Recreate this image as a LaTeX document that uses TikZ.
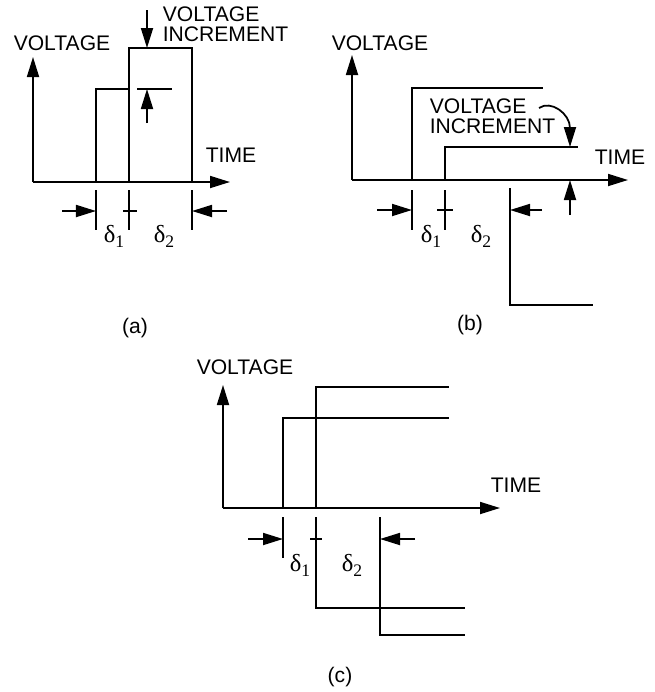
\documentclass[tikz,border=0pt]{standalone}
\usepackage{fontspec}
\setmainfont{Liberation Sans}
\newfontfamily\grk{Liberation Serif}
\usetikzlibrary{arrows.meta}

\newcommand{\dsub}[1]{{\grk δ\raisebox{-0.45ex}{\fontsize{15}{15}\selectfont #1}}}

\begin{document}
\begin{tikzpicture}[x=0.03cm, y=-0.03cm, line width=1.5pt,
    lbl/.style = {font=\fontsize{18}{17}\selectfont, inner sep=0pt},
    dlt/.style = {font=\fontsize{21}{21}\selectfont, inner sep=0pt},
    arr/.style = {-{Triangle[length=6mm, width=3.6mm]}}]
            \useasboundingbox (0,0) rectangle (655,692);

            % (a)
            \coordinate (Oa) at (33,182);
            \coordinate (Ya) at (33,57);
            \coordinate (Xa) at (230,182);
            \draw[arr] (Oa) -- (Ya);
            \draw[arr] (Oa) -- (Xa);
            \node[lbl] (Va) at (62,43) {VOLTAGE};
            \node[lbl] (Ta) at (231,155) {TIME};
            \node[lbl, anchor=west, align=left] (Ia) at (162,24) {VOLTAGE\\INCREMENT};
            \draw (96,182) |- (129,89);
            \draw (129,182) |- (192,48) -- (192,182);
            \draw (137,89) -- (172,89);
            \draw[arr] (147,123) -- (147,89);
            \draw[arr] (147,10) -- (147,48);
            \draw (96,190) -- (96,230) (129,190) -- (129,230) (123,211) -- (137,211) (192,190) -- (192,230);
            \draw[arr] (62,211) -- (96,211);
            \draw[arr] (227,211) -- (192,211);
            \node[dlt] (d1a) at (114,236) {\dsub{1}};
            \node[dlt] (d2a) at (164,236) {\dsub{2}};
            \node[lbl] (la) at (135,328) {(a)};

            % (b)
            \coordinate (Ob) at (352,180);
            \coordinate (Yb) at (352,55);
            \coordinate (Xb) at (628,180);
            \draw[arr] (Ob) -- (Yb);
            \draw[arr] (Ob) -- (Xb);
            \node[lbl] (Vb) at (380,43) {VOLTAGE};
            \node[lbl] (Tb) at (620,157) {TIME};
            \node[lbl, anchor=west, align=left] (Ib) at (429,116) {VOLTAGE\\INCREMENT};
            \draw (412,180) |- (543,88);
            \draw (445,180) |- (578,147);
            \draw[arr] (539,108) to[out=35, in=90] (570,128) -- (570,147);
            \draw[arr] (570,215) -- (570,180);
            \draw (412,190) -- (412,230) (445,190) -- (445,230) (437,210) -- (453,210);
            \draw (510,188) |- (593,305);
            \draw[arr] (377,210) -- (412,210);
            \draw[arr] (542,210) -- (510,210);
            \node[dlt] (d1b) at (431,236) {\dsub{1}};
            \node[dlt] (d2b) at (481,236) {\dsub{2}};
            \node[lbl] (lb) at (470,325) {(b)};

            % (c)
            \coordinate (Oc) at (223,508);
            \coordinate (Yc) at (223,385);
            \coordinate (Xc) at (500,508);
            \draw[arr] (Oc) -- (Yc);
            \draw[arr] (Oc) -- (Xc);
            \node[lbl] (Vc) at (245,367) {VOLTAGE};
            \node[lbl] (Tc) at (516,485) {TIME};
            \draw (283,508) |- (449,418);
            \draw (316,508) |- (449,387);
            \draw (283,517) -- (283,558) (310,539) -- (322,539);
            \draw (316,517) |- (465,608);
            \draw (380,517) |- (465,635);
            \draw[arr] (248,539) -- (283,539);
            \draw[arr] (415,539) -- (380,539);
            \node[dlt] (d1c) at (300,565) {\dsub{1}};
            \node[dlt] (d2c) at (352,565) {\dsub{2}};
            \node[lbl] (lc) at (340,677) {(c)};
        \end{tikzpicture}
\end{document}
